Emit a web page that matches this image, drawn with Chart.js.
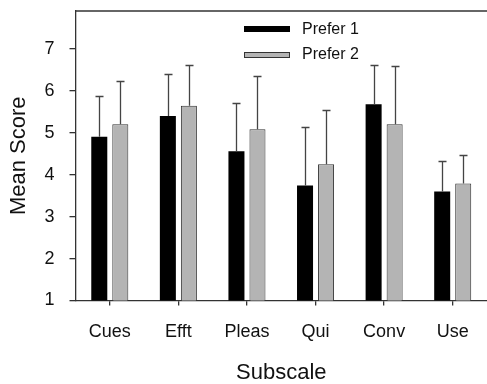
<!DOCTYPE html>
<html><head><meta charset="utf-8">
<script src="https://cdn.jsdelivr.net/npm/chart.js@4"></script>
<style>html,body{margin:0;padding:0;background:#fff}#wrap{width:487px;height:384px}</style>
</head><body><div id="wrap"><canvas id="c" width="487" height="384"></canvas></div>
<script>
const categories = ['Cues', 'Efft', 'Pleas', 'Qui', 'Conv', 'Use'];
const seriesNames = ['Prefer 1', 'Prefer 2'];
const prefer1Mean = [4.90, 5.40, 4.56, 3.74, 5.68, 3.60];
const prefer1SD   = [0.98, 1.00, 1.15, 1.39, 0.93, 0.73];
const prefer2Mean = [5.20, 5.64, 5.08, 4.25, 5.20, 3.79];
const prefer2SD   = [1.04, 0.97, 1.27, 1.28, 1.39, 0.68];
const yTicks = [1, 2, 3, 4, 5, 6, 7];
const yMin = 1, yMax = 7.9;

const FONT = "'Liberation Sans', Arial, sans-serif";
const AXIS = '#333';
const GRAY = '#b4b4b4';

const overlay = {
  id: 'overlay',
  afterDatasetsDraw(chart) {
    const ctx = chart.ctx, ys = chart.scales.y, a = chart.chartArea;
    ctx.save();
    [[0, prefer1Mean, prefer1SD], [1, prefer2Mean, prefer2SD]].forEach(([di, m, sd]) => {
      chart.getDatasetMeta(di).data.forEach((bar, i) => {
        const x = Math.round(bar.x) + 0.5;
        const y0 = ys.getPixelForValue(m[i]);
        const y1 = Math.round(ys.getPixelForValue(m[i] + sd[i])) + 0.5;
        ctx.strokeStyle = '#444';
        ctx.lineWidth = 1.3;
        ctx.beginPath();
        ctx.moveTo(x, y0); ctx.lineTo(x, y1);
        ctx.moveTo(x - 4, y1); ctx.lineTo(x + 4, y1);
        ctx.stroke();
      });
    });
    // top frame line
    ctx.strokeStyle = AXIS; ctx.lineWidth = 1.3;
    ctx.beginPath(); ctx.moveTo(a.left, a.top); ctx.lineTo(a.right, a.top); ctx.stroke();
    // legend
    const ds = chart.data.datasets;
    ctx.font = '16px ' + FONT;
    ctx.textBaseline = 'middle';
    ctx.textAlign = 'left';
    ctx.fillStyle = ds[0].backgroundColor;
    ctx.fillRect(244, 26, 46, 6);
    ctx.fillStyle = '#111';
    ctx.fillText(ds[0].label, 302, 29.5);
    ctx.fillStyle = ds[1].backgroundColor;
    ctx.fillRect(244.5, 52.5, 45, 5);
    ctx.strokeStyle = AXIS; ctx.lineWidth = 1;
    ctx.strokeRect(244.5, 52.5, 45, 5);
    ctx.fillStyle = '#111';
    ctx.fillText(ds[1].label, 302, 55);
    ctx.restore();
  }
};

new Chart(document.getElementById('c'), {
  type: 'bar',
  data: {
    labels: categories,
    datasets: [
      { label: seriesNames[0], data: prefer1Mean, backgroundColor: '#000', borderColor: '#000', borderWidth: 0 },
      { label: seriesNames[1], data: prefer2Mean, backgroundColor: GRAY, borderColor: AXIS, borderWidth: 1 }
    ]
  },
  options: {
    responsive: false,
    animation: false,
    devicePixelRatio: 1,
    categoryPercentage: 0.613,
    barPercentage: 0.762,
    layout: { padding: { top: 11, right: 0, left: 0, bottom: 0 } },
    plugins: { legend: { display: false }, tooltip: { enabled: false } },
    scales: {
      x: {
        offset: true,
        afterFit: s => { s.height = 83.5; s.paddingLeft = 0; s.paddingRight = 0; },
        border: { display: true, color: AXIS, width: 1.3 },
        grid: { display: true, offset: false, drawOnChartArea: false, drawTicks: true, tickLength: 5, color: AXIS, lineWidth: 1.3 },
        ticks: { color: '#111', font: { family: FONT, size: 18 }, padding: 16, maxRotation: 0 },
        title: { display: true, text: 'Subscale', color: '#111', font: { family: FONT, size: 22, lineHeight: 1 }, padding: { top: 0, bottom: 0 } }
      },
      y: {
        min: yMin, max: yMax,
        afterFit: s => { s.width = 75.5; s.paddingTop = 0; s.paddingBottom = 0; },
        afterBuildTicks: s => { s.ticks = yTicks.map(v => ({ value: v })); },
        border: { display: true, color: AXIS, width: 1.3 },
        grid: { display: true, drawOnChartArea: false, drawTicks: true, tickLength: 6, color: AXIS, lineWidth: 1.3 },
        ticks: { color: '#111', font: { family: FONT, size: 18 }, padding: 15 },
        title: { display: true, text: 'Mean Score', color: '#111', font: { family: FONT, size: 22, lineHeight: 1 }, padding: { top: 8, bottom: 0 } }
      }
    }
  },
  plugins: [overlay]
});
</script>
</body></html>
